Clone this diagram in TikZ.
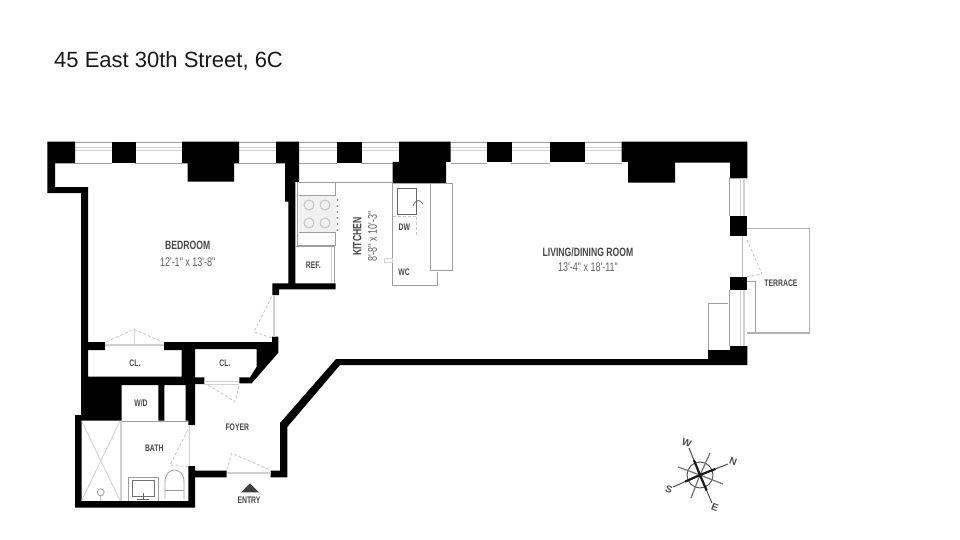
\documentclass[tikz,border=0pt]{standalone}
\usepackage{fontspec}
\setmainfont{Liberation Sans}
\newfontfamily\planfont[FakeStretch=0.72]{Liberation Sans}
\usetikzlibrary{positioning,calc}
\definecolor{fixture}{gray}{0.62}
\definecolor{pale}{gray}{0.82}
\definecolor{swing}{gray}{0.78}
\tikzset{
  wall/.style={fill=black,draw=none},
  fixtureline/.style={draw=fixture,line width=0.8pt},
  paleline/.style={draw=pale,line width=0.8pt},
  doubleline/.style={draw=pale,line width=1.6pt},
  swingline/.style={draw=swing,line width=0.8pt,dash pattern=on 3pt off 2pt},
  roomname/.style={font=\planfont\bfseries\fontsize{12}{12}\selectfont,text=black!72},
  roomsize/.style={font=\planfont\fontsize{12.5}{12.5}\selectfont,text=black!62},
  smallname/.style={font=\planfont\bfseries\fontsize{9.5}{9.5}\selectfont,text=black!72},
  compassletter/.style={font=\fontsize{10}{10}\selectfont\rmfamily\bfseries,text=black!70,inner sep=0pt},
}
\begin{document}
\begin{tikzpicture}[x=1pt,y=-1pt]
    \useasboundingbox (0,0) rectangle (960,540);
    \node [anchor=west,inner sep=0pt,font=\fontsize{22}{22}\selectfont,text=black!90] (title) at (54,60.5) {45 East 30th Street, 6C};
    % windows along the top
    \foreach \a/\b in {75/112,135/182,239/276,299/337,361/399,451/487,511/550,585/622}{
        \draw [fixtureline] (\a,142.3) -- (\b,142.3);
        \draw [fixtureline] (\a,163) -- (\b,163);
        \draw [paleline] (\a,147.5) -- (\b,147.5) (\a,150) -- (\b,150);
    }
    \def\mainwall{(47.3,141.7) -- (75,141.7) -- (75,163.5) -- (55,163.5) -- (55,187) -- (88,187) -- (88,342) -- (105,342) -- (105,350) -- (88,350) -- (88,376.7) -- (181.7,376.7) -- (181.7,350) -- (164,350) -- (164,342) -- (272,342) -- (272,336.7) -- (278.3,336.7) -- (278.3,352.7) -- (251.7,383.3) -- (239.3,383.3) -- (239.3,377.3) -- (250,377.3) -- (256.7,366.7) -- (256.7,349) -- (195,349) -- (195,377.3) -- (204.3,377.3) -- (204.3,384) -- (195,384) -- (195,425) -- (188.3,425) -- (188.3,420.7) -- (185.7,420.7) -- (185.7,385) -- (164.3,385) -- (164.3,420.7) -- (158.3,420.7) -- (158.3,385) -- (121.7,385) -- (121.7,420.7) -- (81.7,420.7) -- (81.7,501) -- (188.3,501) -- (188.3,466) -- (195,466) -- (195,470.7) -- (226.7,470.7) -- (226.7,477.3) -- (195,477.3) -- (195,507.7) -- (75,507.7) -- (75,415) -- (81,415) -- (81,193) -- (47.3,193) -- cycle}
    \def\kitchenwall{(276,141.7) -- (299,141.7) -- (299,182) -- (295.3,182) -- (295.3,283.3) -- (335.7,283.3) -- (335.7,289.3) -- (279,289.3) -- (279,295) -- (272.3,295) -- (272.3,283.3) -- (288.3,283.3) -- (288.3,201.7) -- (285,201.7) -- (285,163.5) -- (276,163.5) -- cycle}
    \def\outerwall{(270.7,470.7) -- (280,470.7) -- (280,423) -- (336,359) -- (708,359) -- (708,350) -- (730,350) -- (730,346) -- (747.3,346) -- (747.3,365) -- (340,365) -- (287.3,427) -- (287.3,477.3) -- (270.7,477.3) -- cycle}
    \fill [wall] \mainwall;
    \fill [wall] \kitchenwall;
    \fill [wall] \outerwall;
    % piers
    \fill [wall] (111.7,141.7) rectangle (135.7,163.3);
    \fill [wall] (182,141.7) -- (239,141.7) -- (239,163.3) -- (234,163.3) -- (234,181.7) -- (187.7,181.7) -- (187.7,163.3) -- (182,163.3) -- cycle;
    \fill [wall] (336.7,141.7) rectangle (361.7,163.3);
    \fill [wall] (399,141.7) -- (450.7,141.7) -- (450.7,162) -- (446,162) -- (446,183.3) -- (392.7,183.3) -- (392.7,162) -- (399,162) -- cycle;
    \fill [wall] (487,141.7) rectangle (512,162);
    \fill [wall] (550,141.7) rectangle (585,162);
    \fill [wall] (621.7,141.7) -- (747.3,141.7) -- (747.3,178.3) -- (730,178.3) -- (730,162.7) -- (675,162.7) -- (675,182.5) -- (628,182.5) -- (628,162) -- (621.7,162) -- cycle;
    \fill [wall] (730,216) rectangle (747.3,236);
    \fill [wall] (730,277.3) rectangle (747.3,290);
    % east windows and terrace
    \foreach \a/\b in {178.3/216,290/346}{
        \draw [fixtureline] (729,\a) -- (729,\b);
        \draw [doubleline] (740.5,\a) -- (740.5,\b) (744,\a) -- (744,\b);
    }
    \draw [doubleline,draw=fixture!70] (742.3,236) -- (742.3,277.3);
    \draw [swingline] (747,240) -- (762,274) -- (747,277);
    \draw [doubleline,draw=fixture!80] (747.3,228.3) -- (809.5,228.3) -- (809.5,332.8) -- (747.3,332.8);
    \draw [fixtureline] (747.3,281.7) -- (755,281.7) -- (755,331.7);
    \draw [fixtureline] (708,350) -- (708,303) -- (728,303);
    % kitchen
    \draw [fixtureline] (299,182.3) -- (392.7,182.3) -- (392.7,285.7) -- (437.7,285.7) -- (437.7,271.7);
    \draw [fixtureline] (297.5,182) -- (297.5,245) -- (335.7,245) -- (335.7,182.3);
    \draw [fixtureline] (446,183.3) -- (452.3,183.3) -- (452.3,270.7) -- (430,270.7) -- (430,183.3);
    \fill [gray!12] (298.5,195.7) rectangle (335.7,232.3);
    \foreach \x in {309,325}{
        \foreach \y in {205,223}{
            \draw [paleline,draw=fixture!70] (\x,\y) circle [radius=5pt];
        }
    }
    \draw [fixtureline] (298.5,195.7) -- (335.7,195.7) (298.5,232.3) -- (335.7,232.3);
    \foreach \y in {200,206,212,218,224,230}{
        \fill [black!45] (337.5,\y) circle [radius=1.1pt];
    }
    \draw [fixtureline] (296,246.3) -- (334.3,246.3) -- (334.3,283);
    \draw [paleline] (331.5,247) -- (331.5,283);
    \draw [fixtureline,black!60] (397.3,188.3) rectangle (416.7,214);
    \draw [fixtureline,draw=black!55] (413,206) .. controls (416,199) and (420,199) .. (423,204);
    \draw [swingline] (393,216) -- (416.7,216) -- (416.7,236);
    \draw [paleline] (384,258) rectangle (392.7,262);
    % closet, bedroom and foyer doors
    \draw [doubleline] (105,345) -- (164,345);
    \draw [paleline] (134,329.3) -- (134,345);
    \draw [swingline] (106.7,341.7) -- (134,329.3) -- (161.7,341.7);
    \draw [doubleline] (274,295) -- (274,337);
    \draw [swingline] (271.7,296.7) -- (254,331.7) -- (271.7,338);
    \draw [paleline] (204.3,381) -- (239.3,381) (204.3,384) -- (239.3,384);
    \draw [swingline] (208,385) -- (235,401.7) -- (239.3,385);
    \draw [doubleline] (189.5,425) -- (189.5,466);
    \draw [swingline] (187.7,430) -- (170,465) -- (187.7,466.7);
    \draw [doubleline] (226.7,473) -- (270.7,473);
    \draw [swingline] (226.7,470) -- (231.7,453.3) -- (270,470);
    % bath
    \draw [fixtureline] (121.7,421) -- (188.3,421);
    \draw [doubleline] (121,421) -- (121,501);
    \draw [paleline] (81.7,421) -- (120,500.5) (120,421) -- (81.7,500.5);
    \draw [fixtureline] (100.7,492.3) circle [radius=3.5pt] (100.7,495.8) -- (100.7,501);
    \draw [fixtureline] (128.3,500.5) -- (128.3,477.3) -- (158.3,477.3) -- (158.3,500.5);
    \draw [fixtureline,black!55] (132.3,480.7) rectangle (154,496.7);
    \draw [fixtureline,black!60] (143,493) -- (143,500) (137,499) -- (149,499);
    \draw [fixtureline] (165,499) -- (165,482) .. controls (165,466) and (184,466) .. (184,482) -- (184,499);
    \draw [fixtureline] (165,490.7) -- (184,490.7);
    % labels
    \node [roomname] (bedroom) at (187.7,245.7) {BEDROOM};
    \node [roomsize] (bedroomsize) at (187.7,261.7) {12'-1" x 13'-8"};
    \node [roomname] (living) at (588,252) {LIVING/DINING ROOM};
    \node [roomsize] (livingsize) at (588,267) {13'-4" x 18'-11"};
    \node [roomname,rotate=90] (kitchen) at (357.3,236.7) {KITCHEN};
    \node [roomsize,rotate=90] (kitchensize) at (372.5,236.7) {8'-8" x 10'-3"};
    \node [smallname] (terrace) at (781,283.3) {TERRACE};
    \node [smallname] (closeta) at (135,363.3) {CL.};
    \node [smallname] (closetb) at (225,363.3) {CL.};
    \node [smallname] (washer) at (141,403.3) {W/D};
    \node [smallname] (foyer) at (237.3,427) {FOYER};
    \node [smallname] (bath) at (154.3,448.7) {BATH};
    \node [smallname] (fridge) at (313.3,265) {REF.};
    \node [smallname] (dishwasher) at (404.3,227) {DW};
    \node [smallname] (wc) at (404,272.3) {WC};
    \node [smallname] (entry) at (249,500) {ENTRY};
    \fill [black!75] (241,492.3) -- (250,483.3) -- (259,492.3) -- cycle;
    % compass
    \coordinate (c) at (700,475);
    \draw [black!70,line width=0.9pt] (c) circle [radius=13pt];
    \foreach \x/\y in {710/453,723/484,691/498,678/467}{
        \draw [black!55,line width=1.2pt] (c) -- (\x,\y);
    }
    \foreach \x/\y in {728/464,673/487,689/448,712/503}{
        \draw [black!70,line width=1pt] (c) -- (\x,\y);
        \draw [black!90,line width=2.2pt] (c) -- ($(c)!.55!(\x,\y)$);
    }
    \node [compassletter,rotate=-20] (north) at (733.3,461.7) {N};
    \node [compassletter,rotate=-20] (south) at (669,489) {S};
    \node [compassletter,rotate=-20] (west) at (686.7,443.3) {W};
    \node [compassletter,rotate=-20] (east) at (715,507.7) {E};
\end{tikzpicture}
\end{document}
